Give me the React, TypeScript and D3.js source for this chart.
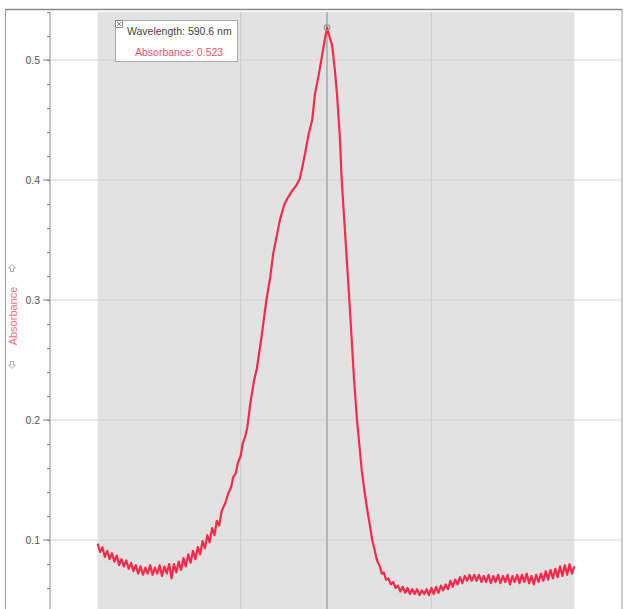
import React, { useEffect, useRef } from 'react';
import * as d3 from 'd3';

// --- Spectrum data (incl. the visible noise on the baselines) ---
const leftBaseNm = [
  350, 352.5, 355, 357.5, 360, 362.5, 365, 367.5, 370, 372.5, 375, 377.5, 380, 382.5, 385, 387.5, 390, 392.5,
  395, 397.5, 400, 402.5, 405, 407.5, 410, 412.5, 415, 417.5, 420, 422.5, 425, 427.5, 430, 432.5, 435, 437.5,
  440, 442.5, 445, 447.5, 450, 452.5, 455, 457.5, 460, 462.5, 465, 467.5, 470, 472.5, 475, 477.5,
];
const leftBaseAbs = [
  0.097, 0.09, 0.094, 0.086, 0.091, 0.084, 0.089, 0.082, 0.087, 0.079, 0.084, 0.078, 0.083, 0.076, 0.081, 0.074, 0.079, 0.072,
  0.078, 0.071, 0.077, 0.072, 0.079, 0.071, 0.077, 0.072, 0.079, 0.07, 0.078, 0.072, 0.08, 0.068, 0.08, 0.073, 0.082, 0.075,
  0.085, 0.078, 0.088, 0.081, 0.091, 0.084, 0.094, 0.088, 0.099, 0.093, 0.104, 0.098, 0.11, 0.104, 0.116, 0.112,
];
const peakNm = [
  480, 484, 487, 490, 492, 495, 497, 500, 502, 505, 507, 510, 514, 517, 522, 527, 531, 534, 537, 539,
  541, 543, 546, 550, 554, 558, 562, 565, 568, 571, 575, 578, 582, 585, 588, 590.6, 593, 596, 599, 601,
  604, 606, 610, 614, 619, 622, 625, 627, 630, 633, 636, 638, 641, 643,
];
const peakAbs = [
  0.124, 0.131, 0.139, 0.144, 0.152, 0.156, 0.164, 0.17, 0.18, 0.187, 0.194, 0.213, 0.233, 0.243, 0.27, 0.3, 0.319, 0.338, 0.35, 0.358,
  0.366, 0.372, 0.38, 0.386, 0.391, 0.395, 0.401, 0.412, 0.424, 0.437, 0.45, 0.472, 0.488, 0.502, 0.516, 0.527, 0.52, 0.512, 0.49, 0.472,
  0.436, 0.4, 0.35, 0.3, 0.233, 0.2, 0.175, 0.158, 0.14, 0.124, 0.11, 0.1, 0.09, 0.083,
];
const rightBaseNm = [
  646, 648, 650, 652.5, 655, 657.5, 660, 662.5, 665, 667.5, 670, 672.5, 675, 677.5, 680, 682.5, 685, 687.5,
  690, 692.5, 695, 697.5, 700, 702.5, 705, 707.5, 710, 712.5, 715, 717.5, 720, 722.5, 725, 727.5, 730, 732.5,
  735, 737.5, 740, 742.5, 745, 747.5, 750, 752.5, 755, 757.5, 760, 762.5, 765, 767.5, 770, 772.5, 775, 777.5,
  780, 782.5, 785, 787.5, 790, 792.5, 795, 797.5, 800, 802.5, 805, 807.5, 810, 812.5, 815, 817.5, 820, 822.5,
  825, 827.5, 830, 832.5, 835, 837.5, 840, 842.5, 845, 847.5, 850,
];
const rightBaseAbs = [
  0.078, 0.072, 0.073, 0.067, 0.068, 0.063, 0.065, 0.06, 0.062, 0.057, 0.061, 0.056, 0.06, 0.055, 0.059, 0.055, 0.059, 0.054,
  0.058, 0.055, 0.059, 0.054, 0.06, 0.055, 0.061, 0.056, 0.062, 0.058, 0.063, 0.059, 0.066, 0.061, 0.067, 0.063, 0.069, 0.064,
  0.07, 0.066, 0.071, 0.066, 0.071, 0.066, 0.071, 0.065, 0.07, 0.065, 0.071, 0.064, 0.07, 0.065, 0.071, 0.064, 0.07, 0.065,
  0.071, 0.063, 0.07, 0.065, 0.071, 0.064, 0.071, 0.065, 0.072, 0.064, 0.07, 0.063, 0.071, 0.065, 0.072, 0.066, 0.074, 0.067,
  0.075, 0.068, 0.076, 0.069, 0.078, 0.07, 0.079, 0.071, 0.08, 0.072, 0.078,
];

const yTicks = [0.1, 0.2, 0.3, 0.4, 0.5];
const xGridLines = [500, 700];
const dataRange = [350, 850];
const cursorNm = 590.6;
const cursorText = ['Wavelength: 590.6 nm', 'Absorbance: 0.523'];
const yLabel = 'Absorbance';

const W = 626;
const H = 609;
const FONT = '"Liberation Sans", Arial, sans-serif';

const Chart = () => {
  const svgRef = useRef<SVGSVGElement>(null);

  useEffect(() => {
    if (!svgRef.current) return;
    const svg = d3.select(svgRef.current);
    svg.selectAll('*').remove();

    const x = d3.scaleLinear().domain([300, 900]).range([50, 622]);
    const y = d3.scaleLinear().domain([0.04, 0.54]).range([612, 12]);
    const top = y(0.54);

    // outer frame
    svg.append('rect')
      .attr('x', 5.5).attr('y', 9.5).attr('width', 616.5).attr('height', H + 10)
      .attr('fill', 'white').attr('stroke', '#9a9a9a').attr('stroke-width', 1);
    svg.append('line')
      .attr('x1', 5).attr('x2', 622).attr('y1', 9.5).attr('y2', 9.5)
      .attr('stroke', '#8a8a8a').attr('stroke-width', 1.5);

    // shaded data region
    svg.append('rect')
      .attr('x', x(dataRange[0])).attr('y', top)
      .attr('width', x(dataRange[1]) - x(dataRange[0])).attr('height', H - top)
      .attr('fill', '#e2e2e2');

    // grid
    svg.selectAll('.hgrid').data(yTicks).enter().append('line')
      .attr('x1', 50).attr('x2', 622)
      .attr('y1', d => y(d)).attr('y2', d => y(d))
      .attr('stroke', '#d2d2d2').attr('stroke-width', 1.2);
    svg.selectAll('.vgrid').data(xGridLines).enter().append('line')
      .attr('x1', d => x(d)).attr('x2', d => x(d))
      .attr('y1', top).attr('y2', H)
      .attr('stroke', '#cfcfcf').attr('stroke-width', 1.2);

    // y axis with minor ticks
    const yAxis = d3.axisLeft(y)
      .tickValues(d3.range(0.06, 0.541, 0.02))
      .tickSize(3)
      .tickFormat(() => '');
    const ag = svg.append('g').attr('transform', 'translate(50,0)').call(yAxis);
    ag.select('.domain').remove();
    ag.selectAll('line').attr('stroke', '#888');
    svg.append('line')
      .attr('x1', 50).attr('x2', 50).attr('y1', top).attr('y2', H)
      .attr('stroke', '#888').attr('stroke-width', 1);

    const majors = svg.append('g');
    majors.selectAll('line').data(yTicks).enter().append('line')
      .attr('x1', 43).attr('x2', 50)
      .attr('y1', d => y(d)).attr('y2', d => y(d))
      .attr('stroke', '#888');
    majors.selectAll('text').data(yTicks).enter().append('text')
      .attr('x', 40).attr('y', d => y(d) + 4)
      .attr('text-anchor', 'end')
      .attr('font-family', FONT).attr('font-size', 10.5).attr('fill', '#555')
      .text(d => d3.format('.1f')(d));

    // y label with arrows
    svg.append('text')
      .attr('transform', `translate(17,316) rotate(-90)`)
      .attr('text-anchor', 'middle')
      .attr('font-family', FONT).attr('font-size', 11).attr('fill', '#ff6d86')
      .text(yLabel);
    const arrow = 'M0,-3.5 L3.5,0 L1.5,0 L1.5,3.5 L-1.5,3.5 L-1.5,0 L-3.5,0 Z';
    svg.append('path').attr('d', arrow)
      .attr('transform', 'translate(12,268)')
      .attr('fill', 'none').attr('stroke', '#999').attr('stroke-width', 0.8);
    svg.append('path').attr('d', arrow)
      .attr('transform', 'translate(12,365) rotate(180)')
      .attr('fill', 'none').attr('stroke', '#999').attr('stroke-width', 0.8);

    // cursor line
    svg.append('line')
      .attr('x1', x(cursorNm)).attr('x2', x(cursorNm))
      .attr('y1', top).attr('y2', H)
      .attr('stroke', '#b4b4b4').attr('stroke-width', 2);

    // spectrum
    const nm = [...leftBaseNm, ...peakNm, ...rightBaseNm];
    const abs = [...leftBaseAbs, ...peakAbs, ...rightBaseAbs];
    const pts = nm.map((w, i) => [w, abs[i]] as [number, number]);
    const line = d3.line<[number, number]>().x(d => x(d[0])).y(d => y(d[1]));
    svg.append('path')
      .datum(pts)
      .attr('d', line)
      .attr('fill', 'none')
      .attr('stroke', '#ff2848')
      .attr('stroke-width', 2.2)
      .attr('stroke-linejoin', 'round');

    // cursor marker at peak
    const peak = pts[d3.maxIndex(pts, d => d[1])];
    svg.append('circle')
      .attr('cx', x(peak[0])).attr('cy', y(peak[1])).attr('r', 2.8)
      .attr('fill', 'none').attr('stroke', '#999').attr('stroke-width', 1.2);

    // readout box
    const box = svg.append('g').attr('transform', 'translate(115,20)');
    box.append('rect')
      .attr('x', 0.5).attr('y', 0.5).attr('width', 122).attr('height', 41)
      .attr('fill', 'white').attr('stroke', '#aaa');
    box.append('rect')
      .attr('x', 0.5).attr('y', 0.5).attr('width', 7).attr('height', 7)
      .attr('fill', 'white').attr('stroke', '#777').attr('stroke-width', 0.8);
    box.append('path').attr('d', 'M2,2 L6,6 M2,6 L6,2')
      .attr('stroke', '#666').attr('stroke-width', 0.8);
    box.append('text')
      .attr('x', 12).attr('y', 15)
      .attr('font-family', FONT).attr('font-size', 10.5).attr('fill', '#444')
      .text(cursorText[0]);
    box.append('text')
      .attr('x', 20).attr('y', 35.5)
      .attr('font-family', FONT).attr('font-size', 10.5).attr('fill', '#ff4d6a')
      .text(cursorText[1]);
  }, []);

  return <svg ref={svgRef} width={W} height={H} style={{ position: 'absolute', left: 0, top: 0 }} />;
};

export default function App() {
  return <Chart />;
}
